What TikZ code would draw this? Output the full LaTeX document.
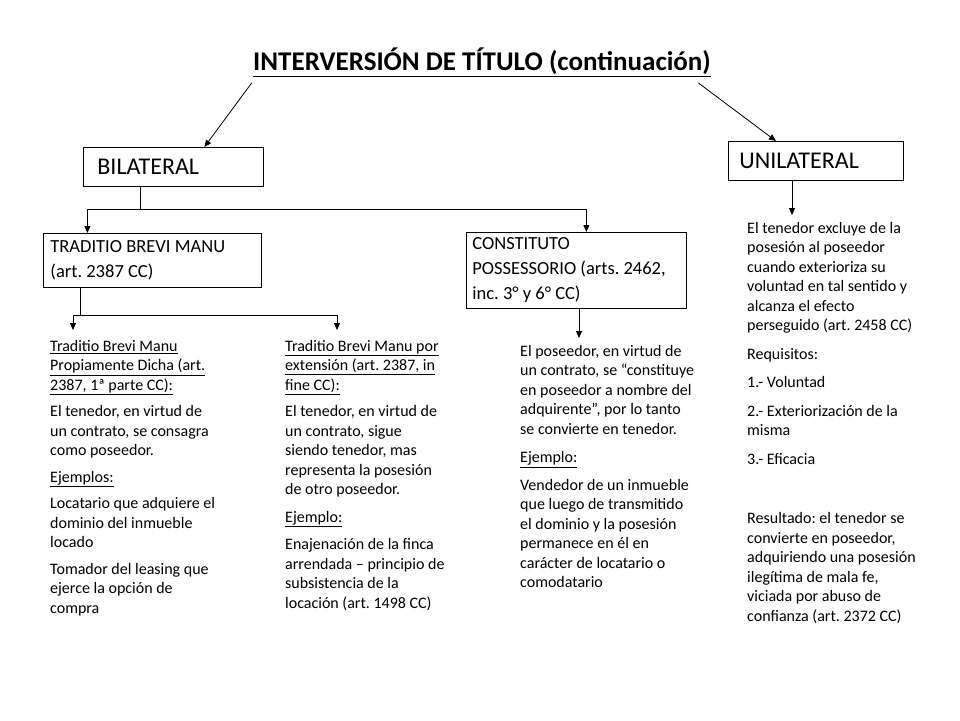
\documentclass[tikz,border=0pt]{standalone}
\usepackage{fontspec}
\setmainfont{Carlito}
\usetikzlibrary{arrows.meta}
\frenchspacing

\tikzset{
  ln/.style={line width=0.8pt},
  arr/.style={line width=0.8pt, -{Triangle[length=7pt,width=6pt]}},
  bx/.style={draw, line width=0.8pt, anchor=north west, align=flush left,
    inner xsep=7pt, inner ysep=0pt, font=\fontsize{18.5}{25}\selectfont},
  txt/.style={anchor=north west, inner sep=0pt, align=left,
    font=\fontsize{16}{19.5}\selectfont}
}

\begin{document}
\begin{tikzpicture}[x=1pt, y=-1pt]
    \useasboundingbox[fill=white] (0,0) rectangle (960,720);
    \node[font=\fontsize{27}{32}\selectfont\bfseries] (title) at (482,62)
        {\underline{INTERVERSIÓN DE TÍTULO (continuación)}};
    \node[bx, inner xsep=14pt, text width=152pt, minimum height=39pt,
        font=\fontsize{24}{28}\selectfont] (bil) at (83,147) {BILATERAL};
    \node[bx, inner xsep=11pt, text width=153pt, minimum height=39pt,
        font=\fontsize{24}{28}\selectfont] (unil) at (728,141) {UNILATERAL};
    \node[bx, text width=204pt, minimum height=54pt] (trad) at (43,233)
        {TRADITIO BREVI MANU\\(art. 2387 CC)};
    \node[bx, inner xsep=6pt, text width=208pt, minimum height=76pt] (cons) at (466,232)
        {CONSTITUTO\\POSSESSORIO (arts. 2462,\\inc. 3° y 6° CC)};
    % Texts
    \node[txt] (blk1) at (50,340) {%
        \underline{Traditio Brevi Manu}\\
        \underline{Propiamente Dicha (art.}\\
        \underline{2387, 1ª parte CC):}\\[7pt]
        El tenedor, en virtud de\\un contrato, se consagra\\como poseedor.\\[7pt]
        \underline{Ejemplos:}\\[7pt]
        Locatario que adquiere el\\dominio del inmueble\\locado\\[7pt]
        Tomador del leasing que\\ejerce la opción de\\compra};
    \node[txt] (blk2) at (285,340) {%
        \underline{Traditio Brevi Manu por}\\
        \underline{extensión (art. 2387, in}\\
        \underline{fine CC):}\\[7pt]
        El tenedor, en virtud de\\un contrato, sigue\\siendo tenedor, mas\\
        representa la posesión\\de otro poseedor.\\[8pt]
        \underline{Ejemplo:}\\[8pt]
        Enajenación de la finca\\arrendada – principio de\\subsistencia de la\\
        locación (art. 1498 CC)};
    \node[txt] (blk3) at (520,345) {%
        El poseedor, en virtud de\\un contrato, se “constituye\\
        en poseedor a nombre del\\adquirente”, por lo tanto\\
        se convierte en tenedor.\\[9pt]
        \underline{Ejemplo:}\\[8pt]
        Vendedor de un inmueble\\que luego de transmitido\\
        el dominio y la posesión\\permanece en él en\\
        carácter de locatario o\\comodatario};
    \node[txt] (blk4) at (747,222) {%
        El tenedor excluye de la\\posesión al poseedor\\cuando exterioriza su\\
        voluntad en tal sentido y\\alcanza el efecto\\perseguido (art. 2458 CC)\\[9pt]
        Requisitos:\\[9pt]
        1.- Voluntad\\[9pt]
        2.- Exteriorización de la\\misma\\[9pt]
        3.- Eficacia\\[40pt]
        Resultado: el tenedor se\\convierte en poseedor,\\
        adquiriendo una posesión\\ilegítima de mala fe,\\
        viciada por abuso de\\confianza (art. 2372 CC)};
    % Connectors
    \coordinate (jb) at (140,209);
    \coordinate (jt) at (80,315);
    \coordinate (a1) at (73,330);
    \coordinate (a2) at (337,330);
    \coordinate (c3) at (579,338);
    \coordinate (u3) at (792,215);
    \draw[arr] ([xshift=2pt,yshift=-3pt]title.south west) -- ([xshift=31pt]bil.north);
    \draw[arr] ([xshift=-16pt,yshift=-3pt]title.south east) -- ([xshift=-40pt]unil.north);
    \draw[ln] (bil.south -| jb) -- (jb);
    \draw[arr] (jb) -| ([xshift=-65pt]trad.north);
    \draw[arr] (jb) -| ([xshift=10pt]cons.north);
    \draw[ln] (trad.south -| jt) -- (jt);
    \draw[arr] (jt) -| (a1);
    \draw[arr] (jt) -| (a2);
    \draw[arr] (cons.south -| c3) -- (c3);
    \draw[arr] (unil.south -| u3) -- (u3);
\end{tikzpicture}
\end{document}
